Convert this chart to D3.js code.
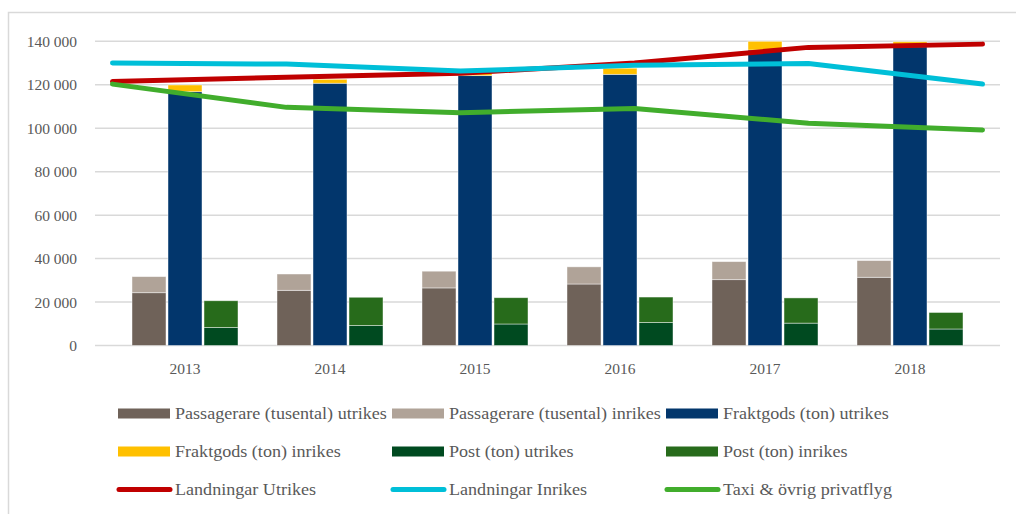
<!DOCTYPE html>
<html><head><meta charset="utf-8">
<script src="https://cdn.jsdelivr.net/npm/d3@7"></script>
<style>
html,body{margin:0;padding:0;background:#fff;}
svg{display:block;}
text{font-family:"Liberation Serif","Times New Roman",serif;fill:#595959;}
</style></head>
<body>
<svg id="chart" width="1016" height="514"></svg>
<script>
const years = ["2013","2014","2015","2016","2017","2018"];
const passUtrikes = [24300, 25400, 26500, 28300, 30300, 31400];
const passInrikes = [7400, 7500, 7700, 7900, 8300, 7700];
const fraktUtrikes = [116800, 120700, 124200, 124800, 136000, 137500];
const fraktInrikes = [3100, 1800, 1100, 2800, 4000, 2300];
const postUtrikes = [8300, 9200, 9900, 10600, 10300, 7600];
const postInrikes = [12300, 13000, 12100, 11700, 11600, 7600];
const landUtrikes = [121500, 123500, 125300, 130000, 137200, 138700];
const landInrikes = [130000, 129500, 126300, 129000, 129800, 120300];
const taxiPrivat = [120300, 109600, 107100, 109100, 102300, 99200];
const yTicks = [0, 20000, 40000, 60000, 80000, 100000, 120000, 140000];
const seriesNames = ["Passagerare (tusental) utrikes","Passagerare (tusental) inrikes","Fraktgods (ton) utrikes",
  "Fraktgods (ton) inrikes","Post (ton) utrikes","Post (ton) inrikes",
  "Landningar Utrikes","Landningar Inrikes","Taxi & övrig privatflyg"];

const colors = {
  passU:"#6f6259", passI:"#b0a398", fraktU:"#02366c", fraktI:"#ffc000",
  postU:"#004a20", postI:"#276b1b", landU:"#c00000", landI:"#00bfd8", taxi:"#41ad2c"
};

const svg = d3.select("#chart");
const plotL = 95, plotR = 1000, plotT = 41.3, plotB = 345.5, inset = 17.5;

// outer border (only top/left visible)
svg.append("rect").attr("x",8.5).attr("y",12.5).attr("width",1100).attr("height",600)
  .attr("fill","none").attr("stroke","#d9d9d9").attr("stroke-width",1.5);

const y = d3.scaleLinear().domain([0,140000]).range([plotB, plotT]);
const x0 = d3.scaleBand().domain(years).range([plotL+inset, plotR-inset]).paddingInner(0).paddingOuter(0);
const groupW = x0.bandwidth()*0.731;
const x1 = d3.scaleBand().domain(["pass","frakt","post"])
  .range([(x0.bandwidth()-groupW)/2, (x0.bandwidth()+groupW)/2]).paddingInner(0.056);
const xl = d3.scalePoint().domain(years).range([plotL+inset, plotR-inset]);

const loc = d3.formatLocale({decimal:",", thousands:" ", grouping:[3], currency:["",""]});
const fmt = loc.format(",d");

// gridlines
svg.append("g").selectAll("line").data(yTicks).join("line")
  .attr("x1",plotL).attr("x2",plotR).attr("y1",d=>y(d)).attr("y2",d=>y(d))
  .attr("stroke","#d9d9d9").attr("stroke-width",1.5);

// y axis
const yAxis = svg.append("g").attr("transform",`translate(${plotL},0)`)
  .call(d3.axisLeft(y).tickValues(yTicks).tickFormat(fmt).tickSize(0).tickPadding(18));
yAxis.select(".domain").remove();
yAxis.selectAll("text").style("font-size","15.5px").attr("fill","#595959").style("font-family","Liberation Serif");

// x axis labels
const xAxis = svg.append("g").attr("transform",`translate(0,${plotB})`)
  .call(d3.axisBottom(x0).tickSize(0).tickPadding(17));
xAxis.select(".domain").remove();
xAxis.selectAll("text").style("font-size","15.5px").attr("fill","#595959").style("font-family","Liberation Serif");

// bars
const bars = svg.append("g");
const stacks = [
  {key:"pass", parts:[[passUtrikes,colors.passU],[passInrikes,colors.passI]]},
  {key:"frakt", parts:[[fraktUtrikes,colors.fraktU],[fraktInrikes,colors.fraktI]]},
  {key:"post", parts:[[postUtrikes,colors.postU],[postInrikes,colors.postI]]}
];
stacks.forEach(s=>{
  years.forEach((yr,i)=>{
    let base = 0;
    s.parts.forEach(([arr,col])=>{
      const v0 = base, v1 = Math.min(base+arr[i], 140000);
      bars.append("rect")
        .attr("x", x0(yr)+x1(s.key))
        .attr("width", x1.bandwidth())
        .attr("y", y(v1))
        .attr("height", y(v0)-y(v1))
        .attr("fill", col)
        .attr("stroke","rgba(255,255,255,0.55)").attr("stroke-width",0.8);
      base += arr[i];
    });
  });
});

// lines
const lineGen = d3.line().x((d,i)=>xl(years[i])).y(d=>y(d));
[[landUtrikes,colors.landU],[landInrikes,colors.landI],[taxiPrivat,colors.taxi]].forEach(([arr,col])=>{
  svg.append("path").attr("d",lineGen(arr)).attr("fill","none").attr("stroke",col)
    .attr("stroke-width",5).attr("stroke-linecap","round").attr("stroke-linejoin","round");
});

// legend
const legendItems = [
  {name:seriesNames[0], col:colors.passU, type:"rect"},
  {name:seriesNames[1], col:colors.passI, type:"rect"},
  {name:seriesNames[2], col:colors.fraktU, type:"rect"},
  {name:seriesNames[3], col:colors.fraktI, type:"rect"},
  {name:seriesNames[4], col:colors.postU, type:"rect"},
  {name:seriesNames[5], col:colors.postI, type:"rect"},
  {name:seriesNames[6], col:colors.landU, type:"line"},
  {name:seriesNames[7], col:colors.landI, type:"line"},
  {name:seriesNames[8], col:colors.taxi, type:"line"}
];
const legX = d3.scaleBand().domain([0,1,2]).range([118, 118+274*3]);
const legY = d3.scalePoint().domain([0,1,2]).range([413.5, 489.5]);
const leg = svg.append("g");
legendItems.forEach((it,i)=>{
  const col = i%3, row = Math.floor(i/3);
  const gx = legX(col), gy = legY(row);
  const g = leg.append("g").attr("transform",`translate(${gx},${gy})`);
  if(it.type==="rect"){
    g.append("rect").attr("x",0).attr("y",-5).attr("width",52).attr("height",10).attr("fill",it.col);
  } else {
    g.append("line").attr("x1",1).attr("x2",52).attr("y1",0).attr("y2",0)
      .attr("stroke",it.col).attr("stroke-width",5).attr("stroke-linecap","round");
  }
  const t = g.append("text").attr("x",57).attr("y",0).attr("dy","0.35em")
    .style("font-size","16px").text(it.name);
  const natural = t.node().getComputedTextLength();
  t.attr("textLength", natural*1.13).attr("lengthAdjust","spacingAndGlyphs");
});
</script>
</body></html>
